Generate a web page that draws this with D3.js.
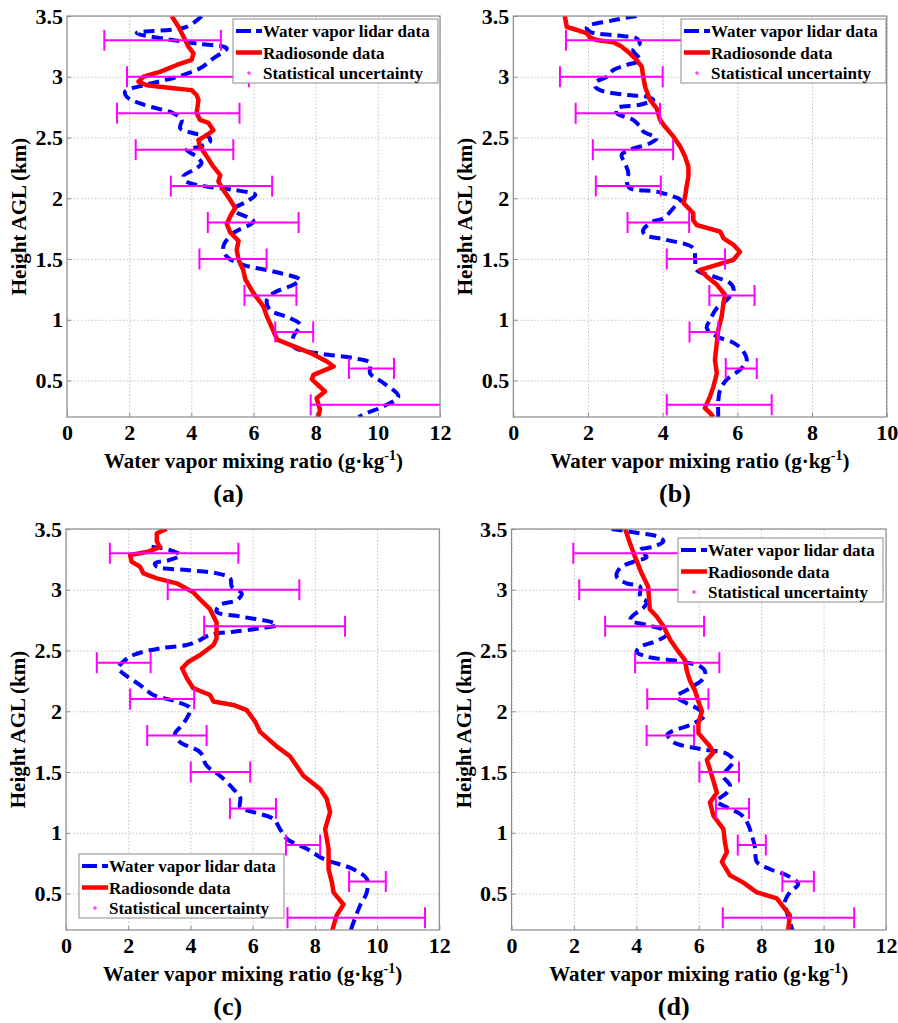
<!DOCTYPE html>
<html><head><meta charset="utf-8">
<script src="https://cdn.jsdelivr.net/npm/d3@7"></script>
<style>
body{margin:0;background:#fff}svg{display:block}
svg text{font-family:"Liberation Serif","Times New Roman",Times,"DejaVu Serif",serif !important;font-weight:bold}
</style>
</head><body>
<svg id="chart" width="898" height="1023"></svg>
<script>
// ---------- tick labels ----------
const yTickValues = [0.5, 1, 1.5, 2, 2.5, 3, 3.5];
const yTickLabels = ["0.5", "1", "1.5", "2", "2.5", "3", "3.5"];
const xTickValues12 = [0, 2, 4, 6, 8, 10, 12];
const xTickLabels12 = ["0", "2", "4", "6", "8", "10", "12"];
const xTickValues10 = [0, 2, 4, 6, 8, 10];
const xTickLabels10 = ["0", "2", "4", "6", "8", "10"];
const seriesNames = ["Water vapor lidar data", "Radiosonde data", "Statistical uncertainty"];
const panelLabels = ["(a)", "(b)", "(c)", "(d)"];

// heights (km) of the statistical-uncertainty bars
const errHeights = [3.3, 3.0, 2.7, 2.4, 2.1, 1.8, 1.5, 1.2, 0.9, 0.6, 0.3];

// ---------- panel (a) ----------  [mixing ratio, height]
const lidarA = [[4.33,3.5],[3.85,3.41],[2.24,3.36],[3.2,3.31],[4.28,3.27],[5.14,3.234],[4.71,3.152],[4.28,3.07],[3.42,2.99],[2.46,2.93],[1.87,2.878],[1.92,2.836],[2.46,2.77],[3.42,2.70],[3.69,2.645],[3.64,2.576],[4.07,2.535],[4.55,2.507],[4.6,2.466],[4.28,2.425],[3.85,2.398],[4.17,2.343],[4.33,2.289],[4.17,2.247],[3.74,2.18],[3.85,2.137],[4.5,2.096],[5.36,2.069],[6.06,2.028],[5.78,1.973],[5.36,1.905],[6.0,1.81],[5.35,1.713],[5.03,1.603],[5.14,1.52],[5.67,1.452],[6.64,1.397],[7.5,1.329],[7.28,1.288],[6.64,1.22],[6.43,1.164],[6.53,1.082],[7.18,1.013],[7.5,0.959],[7.28,0.863],[7.28,0.78],[8.03,0.726],[9.2,0.685],[9.75,0.644],[9.75,0.56],[10.18,0.48],[10.66,0.37],[10.18,0.287],[9.65,0.233],[9.38,0.2]];
const radioA = [[3.37,3.5],[3.59,3.41],[3.75,3.33],[3.9,3.25],[4.07,3.193],[4.01,3.138],[3.53,3.097],[2.99,3.04],[2.46,3.0],[2.3,2.96],[2.57,2.93],[3.42,2.906],[4.01,2.89],[4.17,2.85],[4.23,2.81],[4.17,2.7],[4.28,2.645],[4.55,2.62],[4.71,2.56],[4.5,2.52],[4.23,2.48],[4.28,2.425],[4.5,2.343],[4.71,2.26],[4.93,2.19],[4.87,2.137],[5.03,2.069],[5.25,1.987],[5.41,1.92],[5.25,1.85],[5.14,1.79],[5.25,1.72],[5.52,1.65],[5.46,1.576],[5.52,1.494],[5.67,1.41],[5.74,1.33],[6.0,1.22],[6.32,1.11],[6.43,1.028],[6.6,0.932],[6.76,0.836],[7.18,0.794],[7.84,0.726],[8.36,0.657],[8.58,0.616],[7.93,0.547],[7.88,0.51],[8.3,0.41],[8.03,0.355],[8.14,0.26],[8.08,0.2]];
const errLoA = [1.2,1.93,1.61,2.21,3.34,4.53,4.26,5.71,6.70,9.07,7.84];
const errHiA = [4.95,5.85,5.55,5.35,6.6,7.45,6.42,7.38,7.92,10.52,12.4];

// ---------- panel (b) ----------
const lidarB = [[3.3,3.5],[2.6,3.46],[1.97,3.41],[2.05,3.37],[2.77,3.34],[3.3,3.316],[3.39,3.275],[3.21,3.22],[3.39,3.138],[3.04,3.097],[2.68,3.056],[2.5,3.0],[2.23,2.96],[2.19,2.92],[2.32,2.89],[3.04,2.85],[3.57,2.836],[3.75,2.81],[3.39,2.77],[2.77,2.74],[2.77,2.70],[3.21,2.645],[3.39,2.59],[3.48,2.55],[3.84,2.494],[3.66,2.453],[3.12,2.398],[2.9,2.357],[2.99,2.289],[3.08,2.207],[3.04,2.137],[3.12,2.083],[3.84,2.055],[4.29,2.014],[4.47,1.987],[4.29,1.92],[4.02,1.836],[3.75,1.81],[3.48,1.74],[3.52,1.70],[4.1,1.658],[4.82,1.59],[4.87,1.494],[4.91,1.41],[5.36,1.357],[5.81,1.30],[5.9,1.247],[5.72,1.164],[5.45,1.096],[5.27,1.0],[5.18,0.932],[5.45,0.863],[5.9,0.81],[6.16,0.74],[6.25,0.657],[6.07,0.589],[5.72,0.51],[5.54,0.424],[5.49,0.328],[5.49,0.2]];
const radioB = [[1.38,3.5],[1.43,3.41],[1.7,3.385],[1.97,3.357],[2.05,3.324],[2.23,3.302],[2.68,3.283],[2.9,3.248],[3.12,3.193],[3.3,3.138],[3.44,3.083],[3.48,3.0],[3.53,2.918],[3.66,2.81],[3.84,2.74],[3.93,2.645],[4.06,2.59],[4.29,2.507],[4.47,2.425],[4.6,2.343],[4.69,2.26],[4.69,2.18],[4.64,2.096],[4.6,2.014],[4.56,1.96],[4.82,1.877],[4.82,1.82],[4.91,1.78],[5.54,1.726],[5.63,1.67],[5.9,1.616],[6.07,1.56],[5.9,1.494],[5.45,1.452],[5.0,1.41],[5.18,1.357],[5.45,1.29],[5.67,1.206],[5.63,1.14],[5.58,1.028],[5.49,0.918],[5.45,0.81],[5.4,0.67],[5.45,0.56],[5.36,0.45],[5.27,0.37],[5.13,0.273],[5.27,0.233],[5.36,0.2]];
const errLoB = [1.41,1.25,1.67,2.13,2.21,3.06,4.11,5.25,4.72,5.69,4.11];
const errHiB = [5.4,4.0,3.93,4.28,3.95,4.71,5.67,6.46,5.49,6.52,6.92];

// ---------- panel (c) ----------
const lidarC = [[2.75,3.354],[3.34,3.327],[3.67,3.286],[3.34,3.245],[2.86,3.217],[2.91,3.19],[3.88,3.163],[4.85,3.135],[5.28,3.094],[5.33,3.025],[5.65,2.97],[5.49,2.915],[4.95,2.875],[4.84,2.82],[5.6,2.78],[6.56,2.737],[6.77,2.71],[6.24,2.683],[5.38,2.655],[4.63,2.628],[4.2,2.573],[3.88,2.545],[3.02,2.518],[2.17,2.463],[1.84,2.408],[1.68,2.353],[1.9,2.30],[2.38,2.216],[2.81,2.134],[3.56,2.079],[3.99,2.024],[3.88,1.942],[3.67,1.87],[3.5,1.814],[3.67,1.745],[4.31,1.663],[4.52,1.553],[4.95,1.47],[5.38,1.36],[5.6,1.29],[5.6,1.21],[6.03,1.17],[6.67,1.113],[6.88,1.03],[7.1,0.95],[7.74,0.868],[8.28,0.785],[9.24,0.70],[9.67,0.62],[9.67,0.51],[9.45,0.40],[9.24,0.262],[9.13,0.18]];
const radioC = [[3.24,3.5],[2.92,3.465],[2.92,3.4],[3.02,3.35],[2.6,3.31],[2.06,3.286],[2.11,3.23],[2.38,3.19],[2.49,3.135],[2.92,3.094],[3.56,3.053],[4.09,2.98],[4.31,2.92],[4.63,2.84],[4.84,2.73],[4.84,2.60],[4.74,2.545],[4.31,2.463],[3.94,2.408],[3.73,2.353],[3.89,2.27],[4.09,2.19],[4.63,2.134],[4.74,2.08],[5.38,2.052],[5.81,2.01],[6.08,1.915],[6.24,1.83],[6.78,1.709],[7.2,1.63],[7.63,1.47],[8.17,1.36],[8.38,1.28],[8.49,1.17],[8.33,1.03],[8.44,0.868],[8.44,0.70],[8.55,0.59],[8.6,0.51],[8.92,0.41],[8.7,0.32],[8.6,0.234],[8.55,0.18]];
const errLoC = [1.41,3.27,4.44,0.99,2.06,2.61,4.01,5.27,7.07,9.1,7.12];
const errHiC = [5.54,7.5,8.97,2.72,4.12,4.52,5.92,6.75,8.17,10.28,11.54];

// ---------- panel (d) ----------
const lidarD = [[3.21,3.5],[4.12,3.465],[4.65,3.44],[4.87,3.4],[4.55,3.354],[4.12,3.327],[4.33,3.27],[3.9,3.23],[3.48,3.18],[3.37,3.108],[3.69,3.053],[4.12,3.025],[4.12,2.94],[4.33,2.9],[4.22,2.85],[3.9,2.79],[3.8,2.75],[4.33,2.71],[4.87,2.67],[4.97,2.63],[4.55,2.57],[4.12,2.53],[4.01,2.49],[4.33,2.45],[5.4,2.41],[6.04,2.37],[6.2,2.33],[6.15,2.27],[5.72,2.19],[5.29,2.12],[5.51,2.08],[6.04,2.01],[6.2,1.97],[5.83,1.9],[5.1,1.83],[5.0,1.81],[5.19,1.745],[6.04,1.69],[6.9,1.65],[7.11,1.59],[6.79,1.47],[7.0,1.39],[6.9,1.33],[6.58,1.26],[6.9,1.21],[7.33,1.155],[7.54,1.09],[7.7,0.98],[7.81,0.87],[7.86,0.76],[8.29,0.70],[8.82,0.65],[9.19,0.58],[8.92,0.51],[8.76,0.43],[8.82,0.35],[9.03,0.18]];
const radioD = [[3.64,3.5],[3.8,3.38],[3.96,3.27],[4.17,3.135],[4.38,3.025],[4.43,2.84],[4.65,2.78],[4.87,2.70],[5.08,2.59],[5.35,2.49],[5.56,2.42],[5.62,2.33],[5.72,2.25],[5.88,2.17],[5.99,2.08],[6.1,2.0],[5.99,1.9],[5.99,1.82],[6.36,1.71],[6.47,1.66],[6.26,1.60],[6.42,1.47],[6.58,1.33],[6.36,1.25],[6.47,1.14],[6.79,1.03],[6.84,0.92],[6.9,0.84],[6.74,0.76],[7.0,0.65],[7.43,0.59],[7.86,0.51],[8.5,0.46],[8.92,0.32],[8.87,0.21],[8.87,0.2]];
const errLoD = [1.98,2.17,3.0,3.96,4.35,4.33,6.02,6.55,7.25,8.68,6.77];
const errHiD = [6.46,6.07,6.17,6.66,6.31,5.85,7.29,7.61,8.15,9.69,10.98];

// ---------- layout ----------
const BLUE = "#0000ff", RED = "#ff0000", MAG = "#ff00ff";
const panels = [
  {id:"a", left:67,    right:440,   top:16,  bottom:417, xv:xTickValues12, xl:xTickLabels12, lidar:lidarA, radio:radioA, lo:errLoA, hi:errHiA, leg:[233,19]},
  {id:"b", left:513.3, right:886.7, top:16,  bottom:417, xv:xTickValues10, xl:xTickLabels10, lidar:lidarB, radio:radioB, lo:errLoB, hi:errHiB, leg:[681,19]},
  {id:"c", left:66,    right:439.3, top:529, bottom:930, xv:xTickValues12, xl:xTickLabels12, lidar:lidarC, radio:radioC, lo:errLoC, hi:errHiC, leg:[79,854]},
  {id:"d", left:511.5, right:886,   top:529, bottom:930, xv:xTickValues12, xl:xTickLabels12, lidar:lidarD, radio:radioD, lo:errLoD, hi:errHiD, leg:[678,538]}
];

const svg = d3.select("#chart");
const defs = svg.append("defs");

panels.forEach((p, i) => {
  const xMax = p.xv[p.xv.length - 1];
  const x = d3.scaleLinear().domain([0, xMax]).range([p.left, p.right]);
  const y = d3.scaleLinear().domain([0.2, 3.5]).range([p.bottom, p.top]);
  const W = p.right - p.left, H = p.bottom - p.top;
  const g = svg.append("g");

  defs.append("clipPath").attr("id", "clip" + p.id)
    .append("rect").attr("x", p.left).attr("y", p.top).attr("width", W).attr("height", H);

  // grid
  const gx = g.append("g").attr("transform", `translate(0,${p.bottom})`)
    .call(d3.axisBottom(x).tickValues(p.xv).tickSize(-H).tickFormat(""));
  const gy = g.append("g").attr("transform", `translate(${p.left},0)`)
    .call(d3.axisLeft(y).tickValues(yTickValues).tickSize(-W).tickFormat(""));
  [gx, gy].forEach(a => {
    a.select(".domain").remove();
    a.selectAll("line").attr("stroke", "#b4b4b4").attr("stroke-width", 0.8).attr("stroke-dasharray", "1.5,2");
  });

  // axes with labels
  const ax = g.append("g").attr("transform", `translate(0,${p.bottom})`)
    .call(d3.axisBottom(x).tickValues(p.xv).tickSizeInner(-4).tickSizeOuter(0).tickPadding(7)
      .tickFormat((d, k) => p.xl[k]));
  const ay = g.append("g").attr("transform", `translate(${p.left},0)`)
    .call(d3.axisLeft(y).tickValues(yTickValues).tickSizeInner(-4).tickSizeOuter(0).tickPadding(4)
      .tickFormat((d, k) => yTickLabels[k]));
  [ax, ay].forEach(a => {
    a.select(".domain").remove();
    a.attr("font-family", null).attr("font-size", null);
    a.selectAll("line").attr("stroke", "#8c8c8c");
    a.selectAll("text").style("font-size", "22px").attr("fill", "#000");
  });

  const plot = g.append("g").attr("clip-path", `url(#clip${p.id})`);
  const lineL = d3.line().x(d => x(d[0])).y(d => y(d[1])).curve(d3.curveCatmullRom.alpha(0.5));
  const lineR = d3.line().x(d => x(d[0])).y(d => y(d[1]));

  plot.append("path").datum(p.lidar).attr("d", lineL).attr("fill", "none")
    .attr("stroke", BLUE).attr("stroke-width", 4).attr("stroke-dasharray", "11,6");
  plot.append("path").datum(p.radio).attr("d", lineR).attr("fill", "none")
    .attr("stroke", RED).attr("stroke-width", 4.5).attr("stroke-linejoin", "round");

  const eb = plot.append("g").attr("stroke", MAG).attr("stroke-width", 2).attr("fill", "none");
  const errs = errHeights.map((h, k) => ({h, lo: p.lo[k], hi: p.hi[k]}));
  eb.selectAll(".bar").data(errs).join("line")
    .attr("x1", d => x(d.lo)).attr("x2", d => x(d.hi)).attr("y1", d => y(d.h)).attr("y2", d => y(d.h));
  eb.selectAll(".capl").data(errs).join("line")
    .attr("x1", d => x(d.lo)).attr("x2", d => x(d.lo)).attr("y1", d => y(d.h) - 10.5).attr("y2", d => y(d.h) + 10.5);
  eb.selectAll(".caph").data(errs).join("line")
    .attr("x1", d => x(d.hi)).attr("x2", d => x(d.hi)).attr("y1", d => y(d.h) - 10.5).attr("y2", d => y(d.h) + 10.5);

  // frame
  g.append("rect").attr("x", p.left).attr("y", p.top).attr("width", W).attr("height", H)
    .attr("fill", "none").attr("stroke", "#8c8c8c").attr("stroke-width", 1.2);

  // axis titles
  const cx = (p.left + p.right) / 2;
  const xt = g.append("text").attr("x", cx).attr("y", p.bottom + 51).attr("text-anchor", "middle")
    .style("font-size", "21px");
  xt.append("tspan").text("Water vapor mixing ratio (g·kg");
  xt.append("tspan").attr("dy", -8).style("font-size", "14px").text("-1");
  xt.append("tspan").attr("dy", 8).text(")");

  g.append("text").attr("transform", `translate(${p.left - 41},${(p.top + p.bottom) / 2}) rotate(-90)`)
    .attr("text-anchor", "middle").style("font-size", "21px").text("Height AGL (km)");

  g.append("text").attr("x", cx - 25).attr("y", p.bottom + 85).attr("text-anchor", "middle")
    .style("font-size", "26px").text(panelLabels[i]);

  // legend
  const [lx, ly] = p.leg;
  const lg = g.append("g").attr("transform", `translate(${lx},${ly})`);
  lg.append("rect").attr("width", 205).attr("height", 64).attr("fill", "#fff")
    .attr("stroke", "#8c8c8c").attr("stroke-width", 1);
  const rows = [12, 33.5, 54];
  lg.append("line").attr("x1", 3).attr("x2", 29).attr("y1", rows[0]).attr("y2", rows[0])
    .attr("stroke", BLUE).attr("stroke-width", 4).attr("stroke-dasharray", "15,5,6");
  lg.append("line").attr("x1", 3).attr("x2", 29).attr("y1", rows[1]).attr("y2", rows[1])
    .attr("stroke", RED).attr("stroke-width", 4.5);
  lg.append("path").attr("d", `M14,${rows[2]}h4M16,${rows[2] - 2}v4`).attr("stroke", MAG).attr("stroke-width", 1);
  seriesNames.forEach((s, k) => {
    lg.append("text").attr("x", 30).attr("y", rows[k] + 6).style("font-size", "17px").text(s);
  });
});
</script>
</body></html>
